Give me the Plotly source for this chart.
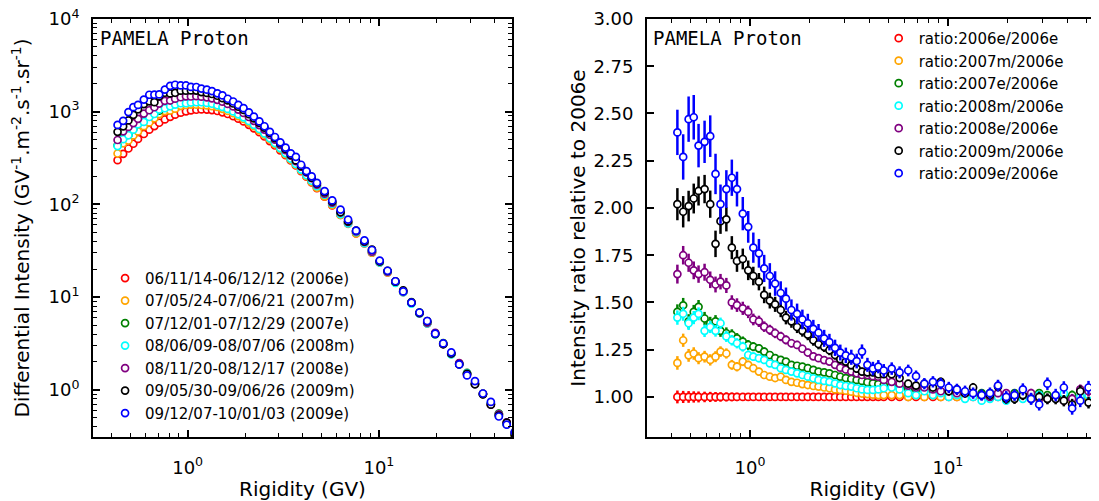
import plotly.graph_objects as go

# ---------------- data ----------------
rigidity = [
    0.43, 0.46, 0.49, 0.52, 0.55,
    0.59, 0.63, 0.67, 0.71, 0.76,
    0.81, 0.86, 0.92, 0.98, 1.04,
    1.11, 1.18, 1.26, 1.34, 1.43,
    1.52, 1.62, 1.73, 1.84, 1.96,
    2.09, 2.22, 2.37, 2.52, 2.69,
    2.86, 3.05, 3.25, 3.46, 3.68,
    3.92, 4.18, 4.45, 4.74, 5.2,
    5.7, 6.3, 6.9, 7.6, 8.4,
    9.2, 10.1, 11.1, 12.2, 13.4,
    14.8, 16.3, 17.9, 19.7, 21.7,
    23.9, 26.3, 28.9, 31.8, 35.0,
    38.5, 42.4, 46.6, 51.3, 56.4,
]

# differential intensity of the reference period 2006e (GV^-1 m^-2 s^-1 sr^-1)
flux_2006e = [
    300, 351, 401, 451, 508,
    575, 640, 700, 760, 825,
    880, 930, 975, 1010, 1035,
    1050, 1058, 1055, 1042, 1018,
    985, 945, 895, 840, 785,
    722, 662, 600, 540, 482,
    432, 383, 339, 298, 263,
    229, 199, 173, 150, 121,
    97.8, 77.1, 61.8, 48.7, 37.9,
    30.1, 23.6, 18.5, 14.4, 11.3,
    8.65, 6.69, 5.21, 4.03, 3.13,
    2.44, 1.90, 1.49, 1.16, 0.903,
    0.705, 0.548, 0.429, 0.334, 0.261,
]

# intensity ratios relative to 2006e
ratio_2006e = [
    1.0, 1.0, 1.0, 1.0, 1.0,
    1.0, 1.0, 1.0, 1.0, 1.0,
    1.0, 1.0, 1.0, 1.0, 1.0,
    1.0, 1.0, 1.0, 1.0, 1.0,
    1.0, 1.0, 1.0, 1.0, 1.0,
    1.0, 1.0, 1.0, 1.0, 1.0,
    1.0, 1.0, 1.0, 1.0, 1.0,
    1.0, 1.0, 1.0, 1.0, 1.0,
    1.0, 1.0, 1.0, 1.0, 1.0,
    1.0, 1.0, 1.0, 1.0, 1.0,
    1.0, 1.0, 1.0, 1.0, 1.0,
    1.0, 1.0, 1.0, 1.0, 1.0,
    1.0, 1.0, 1.0, 1.0, 1.0,
]
ratio_2007m = [
    1.18, 1.30, 1.22, 1.23, 1.205,
    1.213, 1.196, 1.213, 1.24, 1.23,
    1.17, 1.16, 1.187, 1.17, 1.152,
    1.134, 1.116, 1.107, 1.10, 1.107,
    1.09, 1.08, 1.075, 1.068, 1.063,
    1.058, 1.055, 1.05, 1.046, 1.04,
    1.037, 1.033, 1.028, 1.022, 1.018,
    1.015, 1.012, 1.01, 1.01, 1.01,
    1.01, 1.00, 1.01, 1.00, 1.01,
    1.00, 1.01, 1.00, 1.00, 1.01,
    1.00, 1.00, 1.01, 1.00, 1.01,
    1.00, 1.01, 0.99, 1.00, 1.00,
    0.99, 0.98, 1.00, 0.99, 1.00,
]
ratio_2007e = [
    1.45, 1.485, 1.40, 1.45, 1.477,
    1.415, 1.39, 1.40, 1.35, 1.337,
    1.328, 1.31, 1.293, 1.275, 1.266,
    1.257, 1.24, 1.222, 1.205, 1.196,
    1.187, 1.17, 1.165, 1.16, 1.152,
    1.143, 1.134, 1.13, 1.125, 1.116,
    1.107, 1.10, 1.095, 1.09, 1.085,
    1.078, 1.072, 1.068, 1.063, 1.06,
    1.05, 1.045, 1.04, 1.04, 1.03,
    1.03, 1.02, 1.02, 1.02, 1.01,
    1.02, 1.02, 1.01, 1.01, 1.02,
    1.00, 1.01, 1.02, 1.01, 1.00,
    1.00, 1.01, 0.99, 1.03, 1.01,
]
ratio_2008m = [
    1.42, 1.44, 1.39, 1.42, 1.44,
    1.35, 1.37, 1.35, 1.39, 1.32,
    1.30, 1.284, 1.266, 1.222, 1.213,
    1.205, 1.196, 1.178, 1.17, 1.152,
    1.143, 1.134, 1.125, 1.116, 1.107,
    1.099, 1.09, 1.085, 1.08, 1.072,
    1.063, 1.058, 1.055, 1.046, 1.04,
    1.037, 1.037, 1.04, 1.046, 1.05,
    1.04, 1.02, 1.01, 1.03, 1.01,
    1.02, 1.00, 1.01, 0.99, 1.00,
    0.98, 0.99, 1.00, 0.98, 1.00,
    0.99, 1.00, 1.01, 0.99, 1.00,
    1.02, 0.99, 1.00, 1.01, 0.99,
]
ratio_2008e = [
    1.65, 1.75, 1.71, 1.67, 1.65,
    1.66, 1.62, 1.595, 1.61, 1.59,
    1.50, 1.486, 1.469, 1.45, 1.41,
    1.40, 1.372, 1.355, 1.337, 1.32,
    1.302, 1.284, 1.275, 1.255, 1.235,
    1.215, 1.205, 1.195, 1.187, 1.17,
    1.155, 1.145, 1.134, 1.125, 1.116,
    1.116, 1.11, 1.107, 1.09, 1.08,
    1.07, 1.06, 1.05, 1.05, 1.04,
    1.03, 1.03, 1.02, 1.02, 1.02,
    1.01, 1.00, 1.02, 1.02, 1.00,
    1.01, 1.02, 0.99, 0.99, 1.00,
    0.98, 0.99, 1.04, 1.03, 1.05,
]
ratio_2009m = [
    2.02, 1.98, 2.01, 2.05, 2.09,
    2.10, 2.02, 1.81, 1.93, 1.94,
    1.79, 1.72, 1.73, 1.67, 1.64,
    1.61, 1.54, 1.51, 1.49, 1.46,
    1.42, 1.40, 1.37, 1.35, 1.33,
    1.30, 1.28, 1.265, 1.247, 1.222,
    1.20, 1.187, 1.168, 1.15, 1.134,
    1.13, 1.13, 1.12, 1.12, 1.12,
    1.10, 1.07, 1.06, 1.07, 1.05,
    1.08, 1.03, 1.04, 1.02, 1.05,
    1.01, 1.01, 1.055, 0.99, 0.99,
    1.01, 0.99, 1.00, 0.99, 0.99,
    0.98, 0.96, 1.03, 0.97, 1.02,
]
ratio_2009e = [
    2.40, 2.27, 2.47, 2.48, 2.33,
    2.35, 2.38, 2.18, 2.02, 2.10,
    2.16, 2.10, 1.97, 1.90, 1.79,
    1.76, 1.68, 1.64, 1.60, 1.55,
    1.52, 1.46, 1.44, 1.41, 1.39,
    1.36, 1.34, 1.31, 1.29, 1.26,
    1.235, 1.22, 1.21, 1.19, 1.24,
    1.17, 1.15, 1.16, 1.14, 1.15,
    1.13, 1.14, 1.11, 1.07, 1.08,
    1.07, 1.05, 1.04, 1.03, 1.02,
    1.01, 1.02, 1.06, 1.00, 1.01,
    1.04, 0.99, 0.96, 1.07, 1.01,
    1.05, 0.94, 0.98, 1.05, 1.00,
]

# uncertainties of the ratios
err_2006e = [
    0.034, 0.032, 0.031, 0.030, 0.029,
    0.028, 0.027, 0.026, 0.025, 0.024,
    0.023, 0.022, 0.021, 0.020, 0.019,
    0.018, 0.017, 0.016, 0.015, 0.014,
    0.013, 0.013, 0.012, 0.012, 0.011,
    0.011, 0.011, 0.010, 0.010, 0.010,
    0.010, 0.010, 0.010, 0.010, 0.010,
    0.010, 0.010, 0.010, 0.010, 0.010,
    0.011, 0.011, 0.012, 0.012, 0.013,
    0.013, 0.014, 0.014, 0.015, 0.015,
    0.016, 0.016, 0.017, 0.017, 0.018,
    0.018, 0.019, 0.019, 0.020, 0.020,
    0.021, 0.021, 0.022, 0.022, 0.023,
]
err_2007m = [
    0.036, 0.035, 0.034, 0.033, 0.032,
    0.031, 0.030, 0.029, 0.028, 0.027,
    0.026, 0.025, 0.024, 0.022, 0.021,
    0.020, 0.019, 0.018, 0.017, 0.016,
    0.015, 0.015, 0.014, 0.014, 0.013,
    0.013, 0.012, 0.012, 0.012, 0.011,
    0.011, 0.011, 0.011, 0.011, 0.011,
    0.011, 0.011, 0.011, 0.011, 0.012,
    0.012, 0.013, 0.013, 0.014, 0.014,
    0.015, 0.015, 0.016, 0.016, 0.017,
    0.017, 0.018, 0.018, 0.019, 0.019,
    0.020, 0.020, 0.021, 0.021, 0.022,
    0.022, 0.023, 0.023, 0.024, 0.024,
]
err_2007e = [
    0.040, 0.039, 0.038, 0.037, 0.036,
    0.035, 0.034, 0.033, 0.032, 0.031,
    0.030, 0.028, 0.027, 0.026, 0.024,
    0.023, 0.022, 0.021, 0.020, 0.019,
    0.018, 0.017, 0.016, 0.016, 0.015,
    0.015, 0.014, 0.014, 0.013, 0.013,
    0.013, 0.012, 0.012, 0.012, 0.012,
    0.012, 0.012, 0.012, 0.012, 0.013,
    0.013, 0.014, 0.014, 0.015, 0.015,
    0.016, 0.016, 0.017, 0.017, 0.018,
    0.018, 0.019, 0.019, 0.020, 0.020,
    0.021, 0.021, 0.022, 0.022, 0.023,
    0.023, 0.024, 0.024, 0.025, 0.025,
]
err_2008m = [
    0.038, 0.037, 0.036, 0.035, 0.034,
    0.033, 0.032, 0.031, 0.030, 0.029,
    0.028, 0.027, 0.026, 0.025, 0.023,
    0.022, 0.021, 0.020, 0.019, 0.018,
    0.017, 0.016, 0.016, 0.015, 0.015,
    0.014, 0.014, 0.013, 0.013, 0.013,
    0.012, 0.012, 0.012, 0.012, 0.012,
    0.012, 0.012, 0.012, 0.012, 0.013,
    0.013, 0.013, 0.014, 0.014, 0.015,
    0.015, 0.016, 0.016, 0.017, 0.017,
    0.018, 0.018, 0.019, 0.019, 0.020,
    0.020, 0.021, 0.021, 0.022, 0.022,
    0.023, 0.023, 0.024, 0.024, 0.025,
]
err_2008e = [
    0.050, 0.049, 0.048, 0.047, 0.046,
    0.045, 0.044, 0.042, 0.041, 0.040,
    0.038, 0.036, 0.035, 0.033, 0.031,
    0.030, 0.028, 0.027, 0.026, 0.025,
    0.024, 0.023, 0.022, 0.021, 0.020,
    0.019, 0.018, 0.018, 0.017, 0.017,
    0.016, 0.016, 0.015, 0.015, 0.015,
    0.015, 0.015, 0.015, 0.015, 0.015,
    0.015, 0.016, 0.016, 0.017, 0.017,
    0.018, 0.018, 0.019, 0.019, 0.020,
    0.020, 0.021, 0.021, 0.022, 0.022,
    0.023, 0.023, 0.024, 0.024, 0.025,
    0.025, 0.026, 0.026, 0.027, 0.027,
]
err_2009m = [
    0.085, 0.083, 0.081, 0.079, 0.077,
    0.075, 0.072, 0.070, 0.067, 0.064,
    0.061, 0.058, 0.055, 0.052, 0.049,
    0.046, 0.044, 0.042, 0.040, 0.038,
    0.036, 0.034, 0.032, 0.031, 0.030,
    0.029, 0.028, 0.027, 0.026, 0.025,
    0.024, 0.023, 0.022, 0.022, 0.021,
    0.021, 0.020, 0.020, 0.020, 0.020,
    0.020, 0.020, 0.021, 0.021, 0.022,
    0.022, 0.023, 0.023, 0.024, 0.024,
    0.025, 0.025, 0.026, 0.026, 0.027,
    0.027, 0.028, 0.028, 0.029, 0.029,
    0.030, 0.030, 0.031, 0.031, 0.032,
]
err_2009e = [
    0.120, 0.120, 0.120, 0.118, 0.115,
    0.112, 0.110, 0.107, 0.104, 0.100,
    0.096, 0.092, 0.088, 0.084, 0.080,
    0.076, 0.072, 0.068, 0.065, 0.062,
    0.059, 0.056, 0.054, 0.052, 0.050,
    0.048, 0.046, 0.045, 0.044, 0.043,
    0.042, 0.041, 0.040, 0.039, 0.038,
    0.037, 0.036, 0.035, 0.034, 0.033,
    0.032, 0.031, 0.030, 0.030, 0.030,
    0.030, 0.030, 0.030, 0.030, 0.030,
    0.030, 0.030, 0.031, 0.031, 0.031,
    0.032, 0.032, 0.032, 0.033, 0.033,
    0.033, 0.034, 0.034, 0.035, 0.035,
]

period_labels = [
    "06/11/14-06/12/12 (2006e)",
    "07/05/24-07/06/21 (2007m)",
    "07/12/01-07/12/29 (2007e)",
    "08/06/09-08/07/06 (2008m)",
    "08/11/20-08/12/17 (2008e)",
    "09/05/30-09/06/26 (2009m)",
    "09/12/07-10/01/03 (2009e)",
]
ratio_labels = [
    "ratio:2006e/2006e",
    "ratio:2007m/2006e",
    "ratio:2007e/2006e",
    "ratio:2008m/2006e",
    "ratio:2008e/2006e",
    "ratio:2009m/2006e",
    "ratio:2009e/2006e",
]
ratios = [ratio_2006e, ratio_2007m, ratio_2007e, ratio_2008m,
          ratio_2008e, ratio_2009m, ratio_2009e]
errors = [err_2006e, err_2007m, err_2007e, err_2008m,
          err_2008e, err_2009m, err_2009e]

# ---------------- styling ----------------
colors = ["#ff0000", "#ffa500", "#008000", "#00ffff", "#800080", "#000000", "#0000ff"]
FONT = "DejaVu Sans"

fig = go.Figure()

for i in range(7):
    c = colors[i]
    # intensity of each period = 2006e intensity x ratio
    flux = [f * r for f, r in zip(flux_2006e, ratios[i])]
    flux_err = [f * e for f, e in zip(flux_2006e, errors[i])]
    marker = dict(symbol="circle", size=7, color="white",
                  line=dict(color=c, width=1.7))
    fig.add_trace(go.Scatter(
        x=rigidity, y=flux, mode="markers", name=period_labels[i],
        marker=marker,
        error_y=dict(type="data", array=flux_err, color=c, thickness=2.2, width=0),
        xaxis="x", yaxis="y", legend="legend",
    ))
    fig.add_trace(go.Scatter(
        x=rigidity, y=ratios[i], mode="markers", name=ratio_labels[i],
        marker=marker,
        error_y=dict(type="data", array=errors[i], color=c, thickness=2.5, width=0),
        xaxis="x2", yaxis="y2", legend="legend2",
    ))

axis_style = dict(
    showline=True, linecolor="black", linewidth=1.8, mirror="allticks",
    ticks="inside", ticklen=7, tickwidth=1.5, tickcolor="black",
    showgrid=False, zeroline=False, automargin=False,
    ticklabeloverflow="allow",
    tickfont=dict(family=FONT, size=18, color="black"),
)
minor_style = dict(ticks="inside", ticklen=4, tickwidth=1.2, tickcolor="black", showgrid=False)
title_font = dict(family=FONT, size=20, color="black")

x_minor = [0.4, 0.5, 0.6, 0.7, 0.8, 0.9, 2, 3, 4, 5, 6, 7, 8, 9, 20, 30, 40, 50]
y_minor = [m * 10 ** k for k in range(-1, 4) for m in range(2, 10)]

# the page adds an 8 px body margin, so the figure is 8 px smaller than the window
fig.update_layout(
    width=1091, height=493,
    margin=dict(l=85, r=0, t=11, b=64, autoexpand=False),
    paper_bgcolor="white", plot_bgcolor="white",
    font=dict(family=FONT, size=18, color="black"),
    showlegend=True,
    xaxis=dict(
        axis_style, type="log", domain=[0, 0.4165], anchor="y",
        range=[-0.495, 1.696],
        tickvals=[1, 10], ticktext=["10<sup>0</sup>", "10<sup>1</sup>"],
        minor=dict(minor_style, tickvals=x_minor),
        ticklabelstandoff=13,
        title=dict(text="Rigidity (GV)", font=title_font, standoff=3),
    ),
    yaxis=dict(
        axis_style, type="log", domain=[0, 1], anchor="x",
        range=[-0.509, 4],
        tickvals=[1, 10, 100, 1000, 10000],
        ticktext=["10<sup>0</sup>", "10<sup>1</sup>", "10<sup>2</sup>",
                  "10<sup>3</sup>", "10<sup>4</sup>"],
        minor=dict(minor_style, tickvals=y_minor),
        ticklabelstandoff=8,
        title=dict(text="Differential Intensity (GV<sup>-1</sup>.m<sup>-2</sup>.s<sup>-1</sup>.sr<sup>-1</sup>)",
                   font=title_font, standoff=17),
    ),
    xaxis2=dict(
        axis_style, type="log", domain=[0.5507, 1.0], anchor="y2",
        range=[-0.52, 1.763],
        tickvals=[1, 10], ticktext=["10<sup>0</sup>", "10<sup>1</sup>"],
        minor=dict(minor_style, tickvals=x_minor),
        ticklabelstandoff=13,
        title=dict(text="Rigidity (GV)", font=title_font, standoff=3),
    ),
    yaxis2=dict(
        axis_style, domain=[0, 1], anchor="x2",
        range=[0.788, 3.0],
        tickvals=[1.0, 1.25, 1.5, 1.75, 2.0, 2.25, 2.5, 2.75, 3.0],
        tickformat=".2f",
        ticklabelstandoff=8,
        title=dict(text="Intensity ratio relative to 2006e",
                   font=title_font, standoff=2),
    ),
    legend=dict(
        x=0.012, y=0.419, xanchor="left", yanchor="top",
        bgcolor="rgba(0,0,0,0)", borderwidth=0,
        font=dict(family=FONT, size=15, color="black"),
        itemwidth=30, tracegroupgap=0,
    ),
    legend2=dict(
        x=0.781, y=0.993, xanchor="left", yanchor="top",
        bgcolor="rgba(0,0,0,0)", borderwidth=0,
        font=dict(family=FONT, size=15, color="black"),
        itemwidth=30, tracegroupgap=0,
    ),
    annotations=[
        dict(text="PAMELA Proton", xref="x domain", yref="y domain",
             x=0.012, y=0.985, xanchor="left", yanchor="top", showarrow=False,
             font=dict(family="DejaVu Sans Mono", size=19, color="black")),
        dict(text="PAMELA Proton", xref="x2 domain", yref="y2 domain",
             x=0.008, y=0.985, xanchor="left", yanchor="top", showarrow=False,
             font=dict(family="DejaVu Sans Mono", size=19, color="black")),
    ],
)

fig.write_html("out.html")
